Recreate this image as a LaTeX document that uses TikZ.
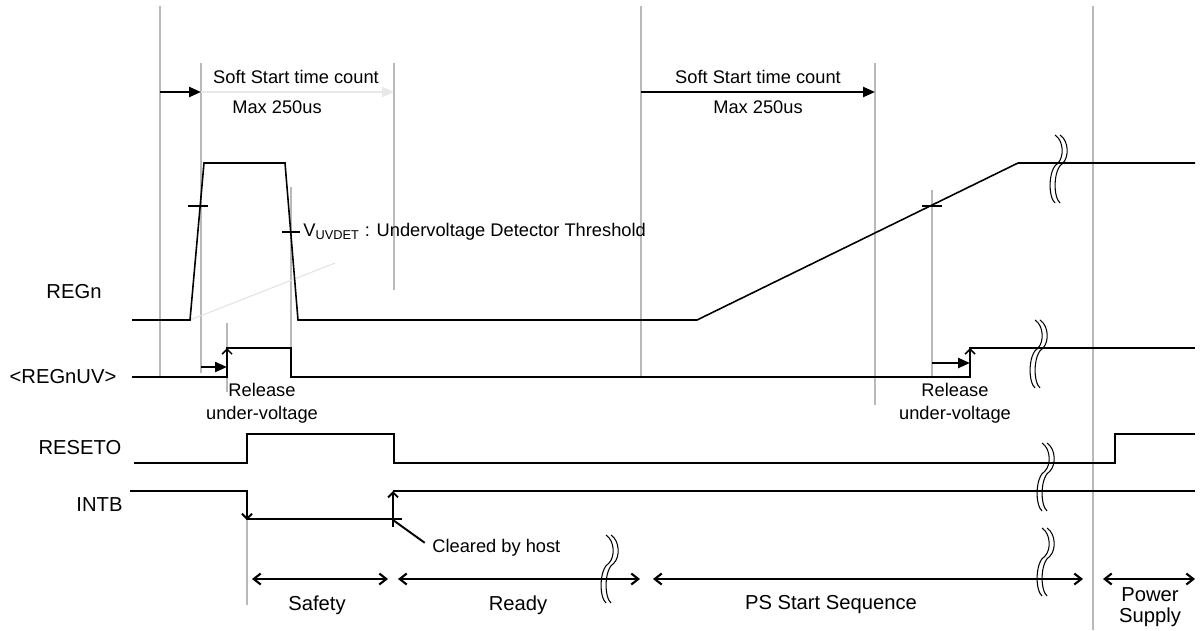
\documentclass[tikz,border=0pt]{standalone}
\usepackage{fontspec}
\setmainfont{Liberation Sans}
\usepackage{tikz}
\usetikzlibrary{arrows.meta,calc}

\tikzset{
  sig/.style={line width=0.9pt},
  guide/.style={gray!55, line width=0.6pt},
  lbl/.style={font=\fontsize{10.4}{12}\selectfont, inner sep=0pt},
  biglbl/.style={font=\fontsize{11.5}{13}\selectfont, inner sep=0pt},
  tarr/.style={line width=1.3pt, -{Triangle[length=0.24cm,width=0.2cm]}},
  barb/.style={line width=1.1pt, -{Straight Barb[length=0.1cm,width=0.2cm]}},
  span/.style={line width=1.2pt, {Straight Barb[length=0.14cm,width=0.22cm]}-{Straight Barb[length=0.14cm,width=0.22cm]}},
  pics/brk/.style={code={
    \draw[line width=0.6pt] (-3,-28) .. controls (6,-22) and (6,-6) .. (0,0) .. controls (-10,6) and (-10,34) .. (-3,40);
    \draw[line width=0.6pt] (2,-28) .. controls (11,-22) and (11,-6) .. (5,0) .. controls (-5,6) and (-5,34) .. (2,40);
  }}
}

\begin{document}
\begin{tikzpicture}[x=0.02cm,y=-0.02cm]
\fill[white] (0,0) rectangle (1202,630);
\useasboundingbox (0,0) rectangle (1202,630);

% guide lines
\draw[guide] (160,6) -- (160,377);
\draw[guide] (201,63) -- (201,373);
\draw[guide] (394,63) -- (394,290);
\draw[guide] (227,323) -- (227,392);
\draw[guide] (291,187) -- (291,348);
\draw[guide] (247,520) -- (247,605);
\draw[guide] (641,6) -- (641,377);
\draw[guide] (875,63) -- (875,405);
\draw[guide] (932,190) -- (932,377);
\draw[guide] (1093,6) -- (1093,630);
\draw[gray!22, line width=0.6pt] (190,320) -- (335,263);

% labels
\node[biglbl] (regn) at (74,292) {REGn};
\node[biglbl] (regnuv) at (63,377) {<REGnUV>};
\node[biglbl] (reseto) at (80,448) {RESETO};
\node[biglbl] (intb) at (99.5,505) {INTB};

\node[lbl] (ss1) at (296,77) {Soft Start time count};
\node[lbl] (max1) at (277,107) {Max 250us};
\node[lbl] (ss2) at (758,77) {Soft Start time count};
\node[lbl] (max2) at (758,107) {Max 250us};
\node[lbl, anchor=west] (vuv) at (303,232) {V\textsubscript{UVDET} : Undervoltage Detector Threshold};
\node[lbl, align=center] (rel1) at (262,403) {Release\\[1pt]under-voltage};
\node[lbl, align=center] (rel2) at (955,403) {Release\\[1pt]under-voltage};
\node[lbl, anchor=west] (clr) at (432,548) {Cleared by host};

\node[biglbl] (safety) at (317,605) {Safety};
\node[biglbl] (ready) at (518,605) {Ready};
\node[biglbl] (psseq) at (831,605) {PS Start Sequence};
\node[biglbl, align=center] (power) at (1150,607) {Power\\[-1pt]Supply};

% signals
\draw[sig] (132,320) -- (190,320) -- (204,163) -- (285,163) -- (298,320) -- (697,320) -- (1018,163) -- (1195,163);
\draw[sig] (132,377) -- (227,377) -- (227,348) -- (291,348) -- (291,377) -- (970,377) -- (970,348) -- (1195,348);
\draw[sig] (134,463) -- (247,463) -- (247,434) -- (394,434) -- (394,463) -- (1115,463) -- (1115,434) -- (1195,434);
\draw[sig] (130,491) -- (247,491) -- (247,519) -- (402,519);
\draw[sig] (393,491) -- (1195,491);

% thresholds
\draw[sig] (188,206) -- (208,206);
\draw[sig] (282,232) -- (300,232);
\draw[sig] (922,206) -- (942,206);

% edge arrows
\draw[barb, line width=0.9pt] (227,377) -- (227,348);
\draw[barb, line width=0.9pt] (970,377) -- (970,348);
\draw[barb] (247,491) -- (247,520);
\draw[barb] (393,527) -- (393,491);
\draw[line width=1.1pt, shorten >=0.18cm] (393,520) -- (clr.west);

% time counts
\coordinate (a0) at (160,92);
\coordinate (a1) at (201,92);
\coordinate (a2) at (394,92);
\coordinate (b0) at (641,92);
\coordinate (b1) at (875,92);
\draw[tarr] (a0) -- (a1);
\draw[tarr, gray!18] (a1) -- (a2);
\draw[tarr] (b0) -- (b1);
\draw[tarr] (201,367) -- (227,367);
\draw[tarr] (932,363) -- (970,363);

% phases
\draw[span] (252,579) -- (388,579);
\draw[span] (398,579) -- (640,579);
\draw[span] (653,579) -- (1083,579);
\draw[span] (1103,579) -- (1195,579);

% breaks
\foreach \bx/\by in {1058/163, 1038/348, 1045/471, 1045/556, 609/563}
  \pic at (\bx,\by) {brk};
\end{tikzpicture}
\end{document}
